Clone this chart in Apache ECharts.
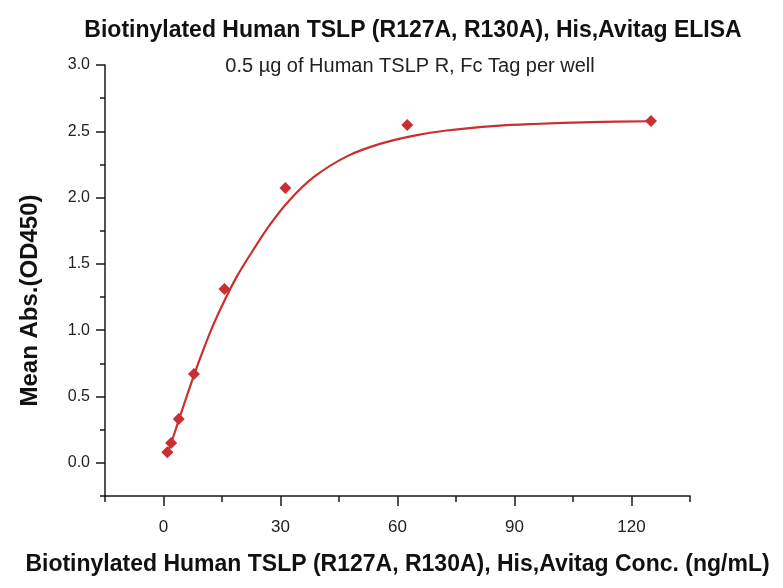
<!DOCTYPE html>
<html><head><meta charset="utf-8">
<script src="https://cdn.jsdelivr.net/npm/echarts@6/dist/echarts.min.js"></script>
<style>html,body{margin:0;padding:0;background:#fff}#c{width:783px;height:588px}</style>
</head><body><div id="c"></div>
<script>
const concentrations = [125, 62.5, 31.25, 15.63, 7.81, 3.91, 1.95, 0.98];
const meanAbs = [2.577, 2.547, 2.072, 1.31, 0.67, 0.33, 0.15, 0.08];
const fitX = [0.98, 2.2, 3.9, 5.6, 7.8, 10.3, 12.9, 15.9, 18.9, 23.1, 27.4, 32.3, 38.5, 47, 55.5, 64, 72.6, 85.4, 95, 110, 125];
const fitY = [0.07, 0.17, 0.32, 0.47, 0.66, 0.86, 1.05, 1.24, 1.41, 1.61, 1.80, 1.98, 2.154, 2.311, 2.405, 2.466, 2.506, 2.541, 2.555, 2.569, 2.576];
const xMajorTicks = [0, 30, 60, 90, 120];
const yMajorTicks = [0, 0.5, 1.0, 1.5, 2.0, 2.5, 3.0];
const titleText = 'Biotinylated Human TSLP (R127A, R130A), His,Avitag ELISA';
const subtitleText = '0.5 \u00b5g of Human TSLP R, Fc Tag per well';
const xName = 'Biotinylated Human TSLP (R127A, R130A), His,Avitag Conc. (ng/mL)';
const yName = 'Mean Abs.(OD450)';

const FONT = '"Liberation Sans", Arial, sans-serif';
const RED = '#c8302f';
const AX = '#1a1a1a';
const chart = echarts.init(document.getElementById('c'), null, {renderer: 'canvas'});
chart.setOption({
  animation: false,
  title: [
    {text: titleText, left: 408, textAlign: 'center', top: 14, textStyle: {fontFamily: FONT, fontWeight: 'bold', fontSize: 23, color: '#111'}},
    {text: subtitleText, left: 405, textAlign: 'center', top: 51, textStyle: {fontFamily: FONT, fontWeight: 'normal', fontSize: 20, color: '#222'}}
  ],
  grid: {left: 105, top: 65, right: 93, bottom: 92, containLabel: false},
  xAxis: [
    {type: 'value', min: -15, max: 135, interval: 15,
     name: xName, nameLocation: 'middle', nameGap: 57,
     nameTextStyle: {fontFamily: FONT, fontWeight: 'bold', fontSize: 23, color: '#111'},
     axisLine: {show: true, onZero: false, lineStyle: {color: AX, width: 1.5}},
     axisTick: {show: true, customValues: xMajorTicks, length: 10, lineStyle: {color: AX, width: 1.5}},
     axisLabel: {customValues: xMajorTicks, fontFamily: FONT, fontSize: 17, color: '#222', margin: 23},
     splitLine: {show: false}},
    {type: 'value', min: -15, max: 135, interval: 15, position: 'bottom',
     axisLine: {show: false, onZero: false},
     axisTick: {show: true, length: 6, lineStyle: {color: AX, width: 1.5}},
     axisLabel: {show: false}, splitLine: {show: false}}
  ],
  yAxis: [
    {type: 'value', min: -0.25, max: 3.0, interval: 0.25,
     name: yName, nameLocation: 'middle', nameGap: 63,
     nameTextStyle: {fontFamily: FONT, fontWeight: 'bold', fontSize: 24, color: '#111', padding: [0, 40, 0, 0]},
     axisLine: {show: true, onZero: false, lineStyle: {color: AX, width: 1.5}},
     axisTick: {show: true, customValues: yMajorTicks, length: 9, lineStyle: {color: AX, width: 1.5}},
     axisLabel: {customValues: yMajorTicks, fontFamily: FONT, fontSize: 16, color: '#222', margin: 15,
       formatter: v => v.toFixed(1)},
     splitLine: {show: false}},
    {type: 'value', min: -0.25, max: 3.0, interval: 0.25, position: 'left',
     axisLine: {show: false, onZero: false},
     axisTick: {show: true, length: 5, lineStyle: {color: AX, width: 1.5}},
     axisLabel: {show: false}, splitLine: {show: false}}
  ],
  series: [
    {type: 'line', name: 'fit', data: fitX.map((x, i) => [x, fitY[i]]), smooth: 0.35, showSymbol: false,
     lineStyle: {color: RED, width: 2.2}, itemStyle: {color: RED}, z: 2},
    {type: 'scatter', name: 'data', data: concentrations.map((x, i) => [x, meanAbs[i]]),
     symbol: 'diamond', symbolSize: 12, itemStyle: {color: RED, opacity: 1}, z: 3}
  ]
});
</script></body></html>
